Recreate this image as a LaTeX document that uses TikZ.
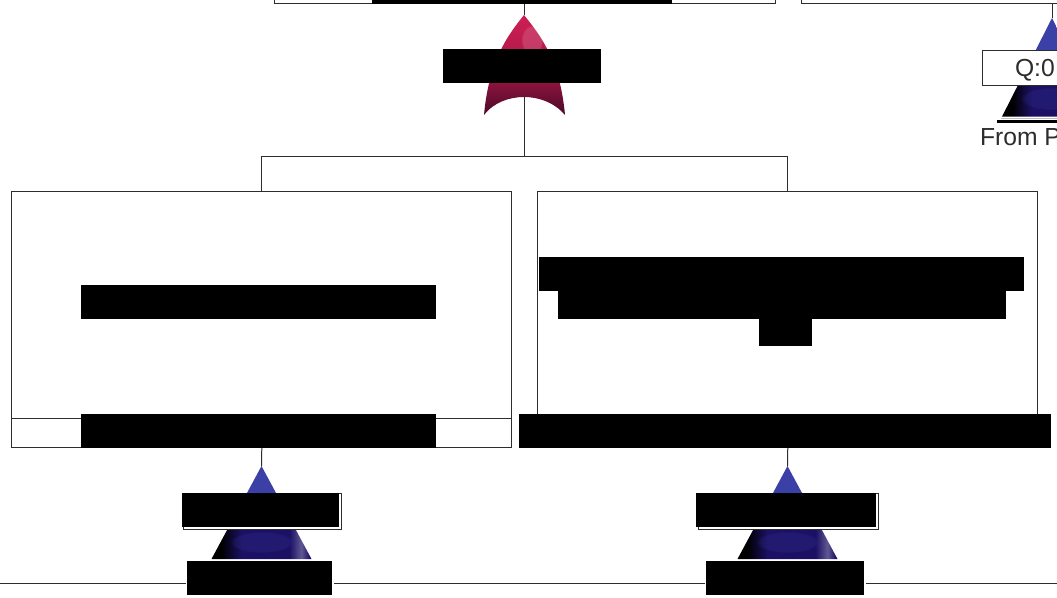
\documentclass[tikz,border=0pt]{standalone}
\usepackage{fontspec}
\setmainfont{Liberation Sans}
\usetikzlibrary{fadings}
\definecolor{ln}{RGB}{45,45,45}
\definecolor{gblue}{RGB}{58,64,165}
\definecolor{gnavy}{RGB}{28,16,100}
\definecolor{gcrim}{RGB}{205,30,85}
\definecolor{gmar}{RGB}{75,8,40}
\pgfdeclarehorizontalshading{gatedark}{100bp}{color(0bp)=(black); color(30bp)=(black); color(40bp)=(gnavy); color(64bp)=(gnavy); color(70bp)=(gnavy!70!white); color(74bp)=(gnavy); color(80bp)=(black); color(100bp)=(black)}
\def\px{0.75pt}
\tikzset{
  wire/.style={draw=ln,line width=0.75pt},
  bx/.style 2 args={draw=ln,line width=0.75pt,fill=white,inner sep=0pt,outer sep=0pt,minimum width=#1*\px,minimum height=#2*\px},
  mask/.style 2 args={fill=black,draw=none,inner sep=0pt,outer sep=0pt,minimum width=#1*\px,minimum height=#2*\px},
  lbl/.style={inner sep=0pt,outer sep=0pt,anchor=base west,font=\fontsize{18.5pt}{20pt}\selectfont,text=ln},
  glow/.style={path fading=circle with fuzzy edge 15 percent}
}
% AND gate drawn from its apex
\newcommand\andgate[3]{%
  \begin{scope}[shift={(#1,#2)},yscale=#3]
    \begin{scope}
      \clip (0,0) -- (50,93) -- (-50,93) -- cycle;
      \fill[gblue] (-50,0) rectangle (50,50);
      \shade[shading=gatedark] (-50,50) rectangle (50,93);
      \fill[gblue,opacity=.2,glow] (0,76) ellipse (32 and 11);
    \end{scope}
  \end{scope}}
\begin{document}
\begin{tikzpicture}[x=0.75pt,y=-0.75pt]
\useasboundingbox (0,0) rectangle (1057,597);
\clip (0,0) rectangle (1057,597);
\fill[white] (0,0) rectangle (1057,597);

% gates
\begin{scope}
  \clip (524,15) .. controls (508,35) and (489,60) .. (484,115)
  .. controls (494,102) and (510,97) .. (524,97)
  .. controls (538,97) and (554,102) .. (565,115)
  .. controls (560,60) and (540,35) .. (524,15) -- cycle;
  \shade[top color=gcrim,bottom color=gmar,middle color=gcrim!85!black] (480,15) rectangle (570,115);
  \fill[white,opacity=.14,glow] (532,40) ellipse (11 and 15);
\end{scope}
\andgate{261.5}{466}{1}
\andgate{787.5}{466}{1}
\andgate{1052}{18}{1.06}

\coordinate (gateTopIn) at (524,15);
\coordinate (gateTopOut) at (524,97);
\coordinate (bus) at (524,156);
\coordinate (gateLIn) at (261.5,466);
\coordinate (gateRIn) at (787.5,466);
\coordinate (gateFarIn) at (1052,18);
\coordinate (edgeL) at (0,583);
\coordinate (edgeR) at (1057,583);

% boxes
\node[bx={501}{60}] (topL) at (524.5,-27) {};
\node[bx={300}{60}] (topR) at (951,-27) {};
\node[bx={500}{228}] (boxL) at (261.8,305) {};
\node[bx={500}{29}] (capL) at (261.8,433) {};
\node[bx={500}{228}] (boxR) at (787.8,305) {};
\node[bx={500}{28}] (capR) at (787.8,432) {};
\node[bx={158}{36}] (tagL) at (262,511) {};
\node[bx={180}{36}] (tagR) at (788,511) {};
\node[bx={140}{35}] (tagFar) at (1052,67.5) {};

% connectors
\draw[wire] (topL.south) ++(-0.5,0) -- (gateTopIn);
\draw[wire] (gateTopOut) -- (bus);
\draw[wire] (bus) -| (boxL.north);
\draw[wire] (bus) -| (boxR.north);
\draw[wire] (capL.south) -- (gateLIn);
\draw[wire] (capR.south) -- (gateRIn);
\draw[wire] (topR.south -| gateFarIn) -- (gateFarIn);

% masked texts
\node[mask={300}{4}] (m1) at (522,1.5) {};
\node[mask={158}{34}] (m2) at (522,66) {};
\node[mask={355}{34}] (m3) at (258.5,302) {};
\node[mask={355}{34}] (m4) at (258.5,431) {};
\node[mask={485}{34}] (m5) at (781.5,274) {};
\node[mask={448}{28}] (m6) at (782,304.5) {};
\node[mask={53}{28}] (m7) at (785.5,332) {};
\node[mask={532}{34}] (m8) at (785,431) {};
\node[mask={157}{34}] (m9) at (260.5,510) {};
\node[mask={180}{34}] (m10) at (786,510) {};
\node[mask={145}{34}] (m11) at (259.5,578) {};
\node[mask={158}{34}] (m12) at (785,578) {};

% bottom rule
\draw[wire] (edgeL) -- ([xshift=-1pt]m11.west |- edgeL);
\draw[wire] ([xshift=1.5pt]m11.east |- edgeL) -- ([xshift=-0.5pt]m12.west |- edgeL);
\draw[wire] ([xshift=1.5pt]m12.east |- edgeL) -- (edgeR);

% far-right gate
\node[lbl] (qtext) at (1015,76) {Q:0};
\node[lbl] (fromtext) at (980,145) {From P};
\draw[gray!50,line width=0.75pt] (1001,118.5) -- (1057,118.5);
\node[mask={62}{3}] (m13) at (1028,121.5) {};
\end{tikzpicture}
\end{document}
